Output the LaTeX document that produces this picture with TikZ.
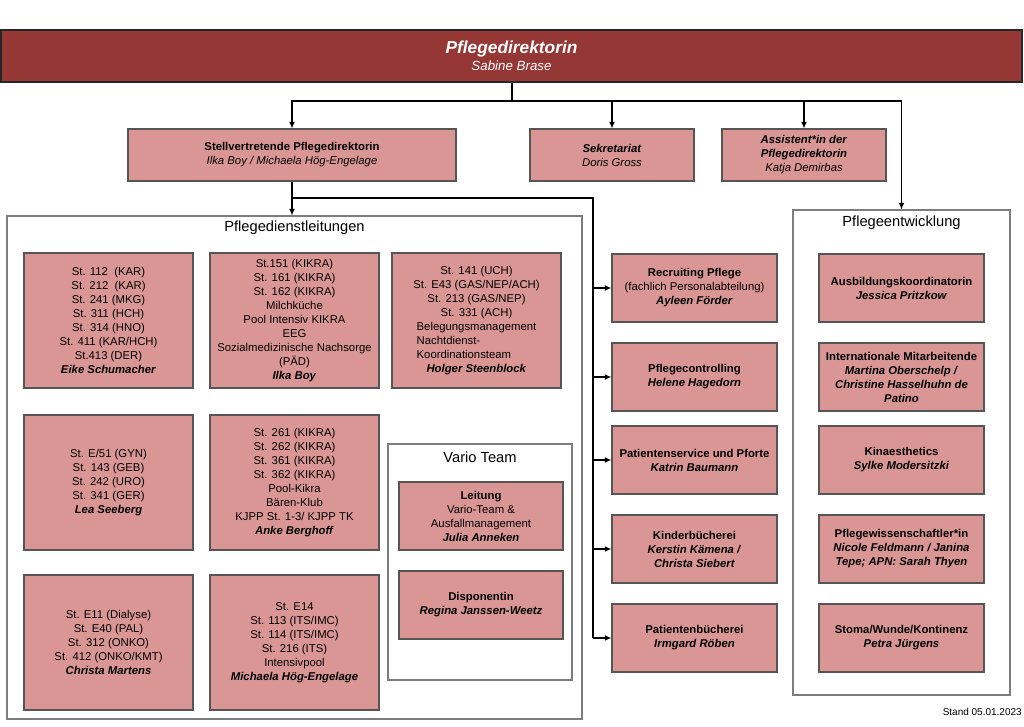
\documentclass[tikz,border=0pt]{standalone}
\usepackage{fontspec}
\setmainfont{Liberation Sans}
\usetikzlibrary{arrows.meta}
\definecolor{topred}{RGB}{149,55,53}
\definecolor{boxpink}{RGB}{217,150,148}
\definecolor{boxline}{RGB}{85,85,85}
\definecolor{contline}{RGB}{125,125,125}
\newcommand{\nm}[1]{\textbf{\textit{#1}}}
\begin{document}
\begin{tikzpicture}[x=0.75pt,y=-0.75pt,
  bw/.style={minimum width=#1*0.75pt},
  bh/.style={minimum height=#1*0.75pt},
  pbox/.style={draw=boxline, fill=boxpink, line width=0.8pt, inner sep=1pt, align=center,
     font=\fontsize{8.5}{10.5}\selectfont},
  topbox/.style={draw=black!85, fill=topred, line width=0.8pt, align=center, text=white},
  cont/.style={draw=contline, fill=white, line width=0.8pt, inner sep=0pt},
  conttitle/.style={font=\fontsize{11}{13}\selectfont, inner sep=0pt},
  conn/.style={line width=1.3pt, black},
  arr/.style={conn, -{Latex[length=5pt,width=4.5pt]}},
  stand/.style={font=\fontsize{7.5}{9}\selectfont, inner sep=0pt, anchor=east}
]
\useasboundingbox (0,0) rectangle (1024,726);

% top
\node[topbox, bw=1021, bh=52] (top) at (511.5,56) {{\fontsize{13}{15}\selectfont\bfseries\itshape Pflegedirektorin}\\[1pt]{\fontsize{10}{12}\selectfont\itshape Sabine Brase}};

% second level
\node[pbox, bw=328, bh=52] (stellv) at (292,155) {\textbf{Stellvertretende Pflegedirektorin}\\\textit{Ilka Boy / Michaela Hög-Engelage}};
\node[pbox, bw=164, bh=52] (sek) at (612,155) {\nm{Sekretariat}\\\textit{Doris Gross}};
\node[pbox, bw=164, bh=52] (ass) at (804,155) {\nm{Assistent*in der}\\\nm{Pflegedirektorin}\\\textit{Katja Demirbas}};

% containers
\node[cont, bw=575, bh=503] (pdl) at (294.5,467.5) {};
\node[conttitle] (pdltitle) at (294.5,228) {Pflegedienstleitungen};
\node[cont, bw=217, bh=485] (pe) at (901.5,452.5) {};
\node[conttitle] (petitle) at (901.5,223) {Pflegeentwicklung};

% PDL boxes
\node[pbox, bw=169, bh=135] (eike) at (108.5,320.5) {St. 112\ \ (KAR)\\St. 212\ \ (KAR)\\St. 241 (MKG)\\St. 311 (HCH)\\St. 314 (HNO)\\St. 411 (KAR/HCH)\\St.413 (DER)\\\nm{Eike Schumacher}};
\node[pbox, bw=169, bh=135] (ilka) at (294.5,320.5) {St.151 (KIKRA)\\St. 161 (KIKRA)\\St. 162 (KIKRA)\\Milchküche\\Pool Intensiv KIKRA\\EEG\\Sozialmedizinische Nachsorge\\(PÄD)\\\nm{Ilka Boy}};
\node[pbox, bw=169, bh=135] (holger) at (476.5,320.5) {St. 141 (UCH)\\St. E43 (GAS/NEP/ACH)\\St. 213 (GAS/NEP)\\St. 331 (ACH)\\\begin{tabular}{@{}l@{}}Belegungsmanagement\\Nachtdienst-\\Koordinationsteam\end{tabular}\\\nm{Holger Steenblock}};
\node[pbox, bw=169, bh=135] (lea) at (108.5,482.5) {St. E/51 (GYN)\\St. 143 (GEB)\\St. 242 (URO)\\St. 341 (GER)\\\nm{Lea Seeberg}};
\node[pbox, bw=169, bh=135] (anke) at (294.5,482.5) {St. 261 (KIKRA)\\St. 262 (KIKRA)\\St. 361 (KIKRA)\\St. 362 (KIKRA)\\Pool-Kikra\\Bären-Klub\\KJPP St. 1-3/ KJPP TK\\\nm{Anke Berghoff}};
\node[pbox, bw=169, bh=135] (christa) at (108.5,642.5) {St. E11 (Dialyse)\\St. E40 (PAL)\\St. 312 (ONKO)\\St. 412 (ONKO/KMT)\\\nm{Christa Martens}};
\node[pbox, bw=169, bh=135] (michaela) at (294.5,642.5) {St. E14\\St. 113 (ITS/IMC)\\St. 114 (ITS/IMC)\\St. 216 (ITS)\\Intensivpool\\\nm{Michaela Hög-Engelage}};

% Vario team
\node[cont, bw=184, bh=236] (vario) at (480,562) {};
\node[conttitle] (variotitle) at (480,457) {Vario Team};
\node[pbox, bw=164, bh=68] (leitung) at (481,516) {\textbf{Leitung}\\Vario-Team \&\\Ausfallmanagement\\\nm{Julia Anneken}};
\node[pbox, bw=164, bh=68] (dispo) at (481,605) {\textbf{Disponentin}\\\nm{Regina Janssen-Weetz}};

% right column
\node[pbox, bw=165, bh=68] (recr) at (694.5,288) {\textbf{Recruiting Pflege}\\(fachlich Personalabteilung)\\\nm{Ayleen Förder}};
\node[pbox, bw=165, bh=68] (contr) at (694.5,377) {\textbf{Pflegecontrolling}\\\nm{Helene Hagedorn}};
\node[pbox, bw=165, bh=68] (service) at (694.5,460) {\textbf{Patientenservice und Pforte}\\\nm{Katrin Baumann}};
\node[pbox, bw=165, bh=68] (kinder) at (694.5,549) {\textbf{Kinderbücherei}\\\nm{Kerstin Kämena /}\\\nm{Christa Siebert}};
\node[pbox, bw=165, bh=68] (pbue) at (694.5,638) {\textbf{Patientenbücherei}\\\nm{Irmgard Röben}};

% Pflegeentwicklung boxes
\node[pbox, bw=165, bh=68] (ausb) at (901.5,288) {\textbf{Ausbildungskoordinatorin}\\\nm{Jessica Pritzkow}};
\node[pbox, bw=165, bh=68] (intl) at (901.5,377) {\textbf{Internationale Mitarbeitende}\\\nm{Martina Oberschelp /}\\\nm{Christine Hasselhuhn de}\\\nm{Patino}};
\node[pbox, bw=165, bh=68] (kin) at (901.5,460) {\textbf{Kinaesthetics}\\\nm{Sylke Modersitzki}};
\node[pbox, bw=165, bh=68] (wiss) at (901.5,549) {\textbf{Pflegewissenschaftler*in}\\\nm{Nicole Feldmann / Janina}\\\nm{Tepe; APN: Sarah Thyen}};
\node[pbox, bw=165, bh=68] (stoma) at (901.5,638) {\textbf{Stoma/Wunde/Kontinenz}\\\nm{Petra Jürgens}};

\node[stand] (standnote) at (1022,712) {Stand 05.01.2023};

% connectors
\coordinate (jtop) at (512,101);
\draw[conn] (jtop |- top.south) -- (jtop);
\draw[arr] (jtop) -| (stellv.north);
\draw[arr] (jtop) -| (sek.north);
\draw[arr] (jtop) -| (ass.north);
\draw[arr] (jtop) -| (pe.north);

\coordinate (jst) at (292,198);
\coordinate (jr) at (593,198);
\draw[conn] (stellv.south) -- (jst);
\draw[arr] (jst) -- (jst |- pdl.north);
\draw[conn] (jst) -- (jr) -- (jr |- pbue.west);
\draw[arr] (jr |- recr.west) -- (recr.west);
\draw[arr] (jr |- contr.west) -- (contr.west);
\draw[arr] (jr |- service.west) -- (service.west);
\draw[arr] (jr |- kinder.west) -- (kinder.west);
\draw[arr] (jr |- pbue.west) -- (pbue.west);
\end{tikzpicture}
\end{document}
